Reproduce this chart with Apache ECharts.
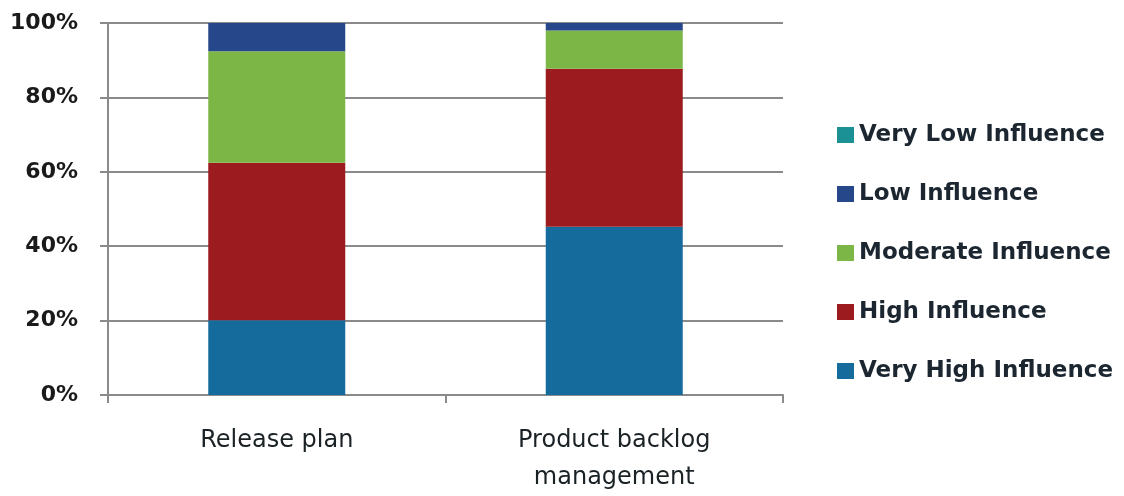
<!DOCTYPE html>
<html>
<head>
<meta charset="utf-8">
<script src="https://cdn.jsdelivr.net/npm/echarts@6/dist/echarts.min.js"></script>
<style>
  html, body { margin: 0; padding: 0; background: #ffffff; }
  #chart { width: 1124px; height: 496px; }
</style>
</head>
<body>
<div id="chart"></div>
<script>
// Categories along the x axis
const categories = ['Release plan', 'Product backlog\nmanagement'];

// Share of responses (percent) per influence level
const veryHighInfluence = [20.1, 45.2];
const highInfluence = [42.3, 42.5];
const moderateInfluence = [30.0, 10.3];
const lowInfluence = [7.6, 2.0];
const veryLowInfluence = [0, 0];

// Y axis tick settings
const yTicks = { min: 0, max: 100, interval: 20 };

// Legend order (top to bottom)
const legendOrder = ['Very Low Influence', 'Low Influence', 'Moderate Influence', 'High Influence', 'Very High Influence'];

const font = 'DejaVu Sans';

const chart = echarts.init(document.getElementById('chart'));

function barSeries(name, data, color) {
  return {
    name: name,
    type: 'bar',
    stack: 'total',
    data: data,
    barWidth: 137,
    itemStyle: { color: color },
    emphasis: { disabled: true }
  };
}

chart.setOption({
  animation: false,
  backgroundColor: '#ffffff',
  grid: { left: 108, right: 341, top: 23, bottom: 100 },
  legend: {
    orient: 'vertical',
    left: 832,
    top: 118,
    itemWidth: 17,
    itemHeight: 16,
    itemGap: 35,
    icon: 'rect',
    data: legendOrder,
    textStyle: { fontFamily: font, fontSize: 23, fontWeight: 'bold', color: '#1c2630', lineHeight: 24 }
  },
  xAxis: {
    type: 'category',
    data: categories,
    axisLine: { lineStyle: { color: '#8a8a8a', width: 2 } },
    axisTick: { show: true, length: 8, lineStyle: { color: '#8a8a8a', width: 2 } },
    axisLabel: { fontFamily: font, fontSize: 24, color: '#1a2226', margin: 27, lineHeight: 37 }
  },
  yAxis: {
    type: 'value',
    min: yTicks.min,
    max: yTicks.max,
    interval: yTicks.interval,
    axisLine: { show: true, lineStyle: { color: '#8a8a8a', width: 2 } },
    axisTick: { show: true, length: 8, lineStyle: { color: '#8a8a8a', width: 2 } },
    splitLine: { lineStyle: { color: '#8a8a8a', width: 2 } },
    axisLabel: { formatter: '{value}%', fontFamily: font, fontSize: 22, fontWeight: 'bold', color: '#1a1a1a', margin: 30 }
  },
  series: [
    barSeries('Very High Influence', veryHighInfluence, '#156b9b'),
    barSeries('High Influence', highInfluence, '#9c1b1e'),
    barSeries('Moderate Influence', moderateInfluence, '#7bb646'),
    barSeries('Low Influence', lowInfluence, '#26478a'),
    barSeries('Very Low Influence', veryLowInfluence, '#1b9196')
  ]
});
</script>
</body>
</html>
